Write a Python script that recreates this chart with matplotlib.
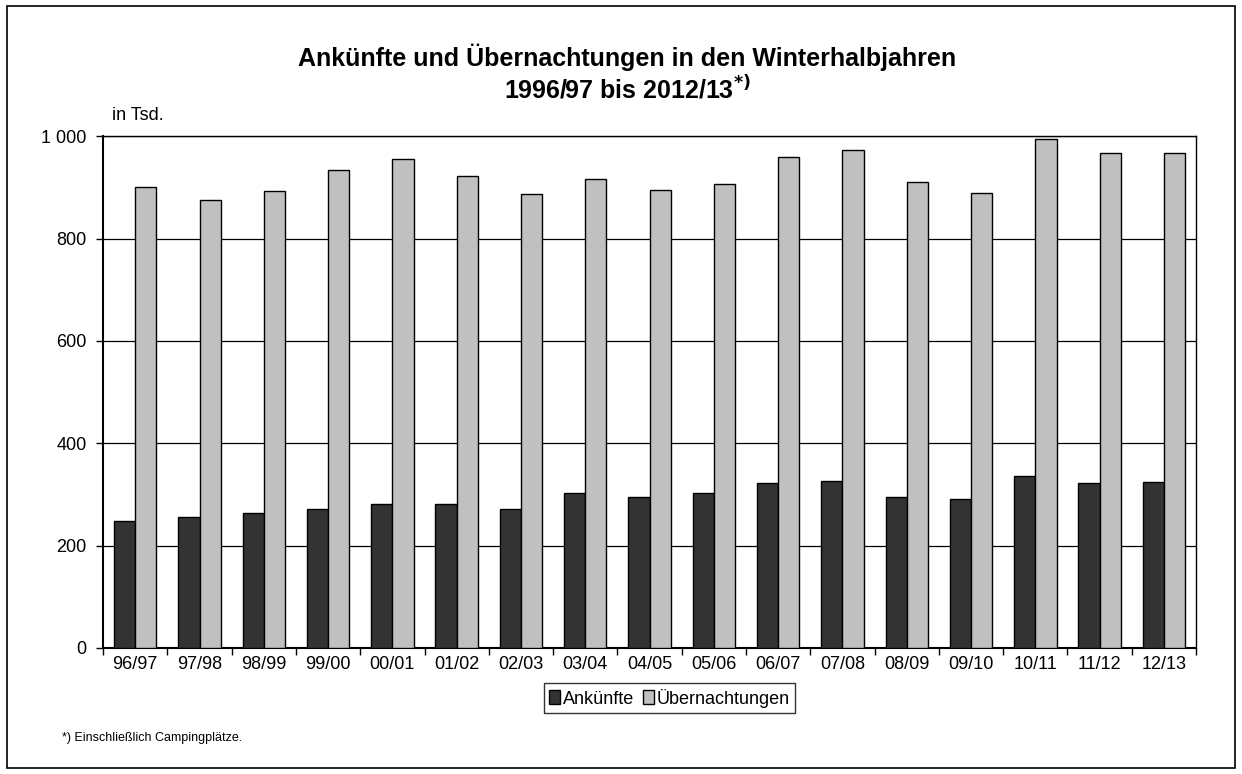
import matplotlib
matplotlib.use("Agg")
import matplotlib.pyplot as plt
import numpy as np
from matplotlib.patches import Rectangle
from matplotlib.ticker import FuncFormatter, FixedLocator

plt.rcParams["font.family"] = ["Liberation Sans", "DejaVu Sans"]

seasons = ["96/97", "97/98", "98/99", "99/00", "00/01", "01/02", "02/03", "03/04",
           "04/05", "05/06", "06/07", "07/08", "08/09", "09/10", "10/11", "11/12", "12/13"]
ankuenfte = [248, 256, 264, 272, 281, 281, 272, 302, 295, 302, 322, 327, 295, 290, 335, 322, 324]
uebernachtungen = [900, 875, 892, 934, 956, 922, 887, 917, 895, 907, 959, 973, 911, 889, 995, 967, 967]

DARK = "#333333"
LIGHT = "#c0c0c0"

fig = plt.figure(figsize=(12.42, 7.74), dpi=100)
fig.patch.set_facecolor("white")
ax = fig.add_axes([0.083, 0.163, 0.880, 0.661])

x = np.arange(len(seasons))
w = 0.33
ax.bar(x - w / 2, ankuenfte, w, color=DARK, edgecolor="black", linewidth=1.0,
       label="Ankünfte", zorder=3)
ax.bar(x + w / 2, uebernachtungen, w, color=LIGHT, edgecolor="black", linewidth=1.0,
       label="Übernachtungen", zorder=3)

ax.set_xlim(-0.5, len(seasons) - 0.5)
ax.set_ylim(0, 1000)
ax.set_yticks(range(0, 1001, 200))
ax.yaxis.set_major_formatter(FuncFormatter(lambda v, p: f"{int(v):,}".replace(",", " ")))
ax.grid(axis="y", color="black", linewidth=0.9, zorder=0)

# category labels centred, tick marks between categories
ax.set_xticks(x)
ax.set_xticklabels(seasons)
ax.tick_params(axis="x", which="major", length=0, pad=6, labelsize=13)
ax.xaxis.set_minor_locator(FixedLocator(np.arange(-0.5, len(seasons), 1.0)))
ax.tick_params(axis="x", which="minor", length=5, width=1, direction="out")
ax.tick_params(axis="y", length=5, width=1, direction="out", labelsize=13, pad=7)

for s in ax.spines.values():
    s.set_linewidth(1.0)
ax.spines["left"].set_linewidth(1.5)
ax.spines["bottom"].set_linewidth(1.5)

fig.text(0.505, 0.926, "Ankünfte und Übernachtungen in den Winterhalbjahren",
         ha="center", va="center", fontsize=18, weight="bold")
fig.text(0.505, 0.884, r"1996/97 bis 2012/13$^{\mathbf{*)}}$",
         ha="center", va="center", fontsize=18, weight="bold")
fig.text(0.090, 0.851, "in Tsd.", ha="left", va="center", fontsize=13)
fig.text(0.050, 0.046, "*) Einschließlich Campingplätze.", ha="left", va="center",
         fontsize=9)

leg = fig.legend(loc="center", bbox_to_anchor=(0.539, 0.098), ncol=2, frameon=True,
                 fancybox=False, edgecolor="black", fontsize=13, handlelength=0.6,
                 handleheight=0.8, handletextpad=0.15, columnspacing=0.5,
                 borderpad=0.3, borderaxespad=0)
leg.get_frame().set_linewidth(1.0)

fig.add_artist(Rectangle((0.006, 0.008), 0.988, 0.984, transform=fig.transFigure,
                         fill=False, edgecolor="black", linewidth=1.2))

plt.savefig("out.png", dpi=100, facecolor="white")
